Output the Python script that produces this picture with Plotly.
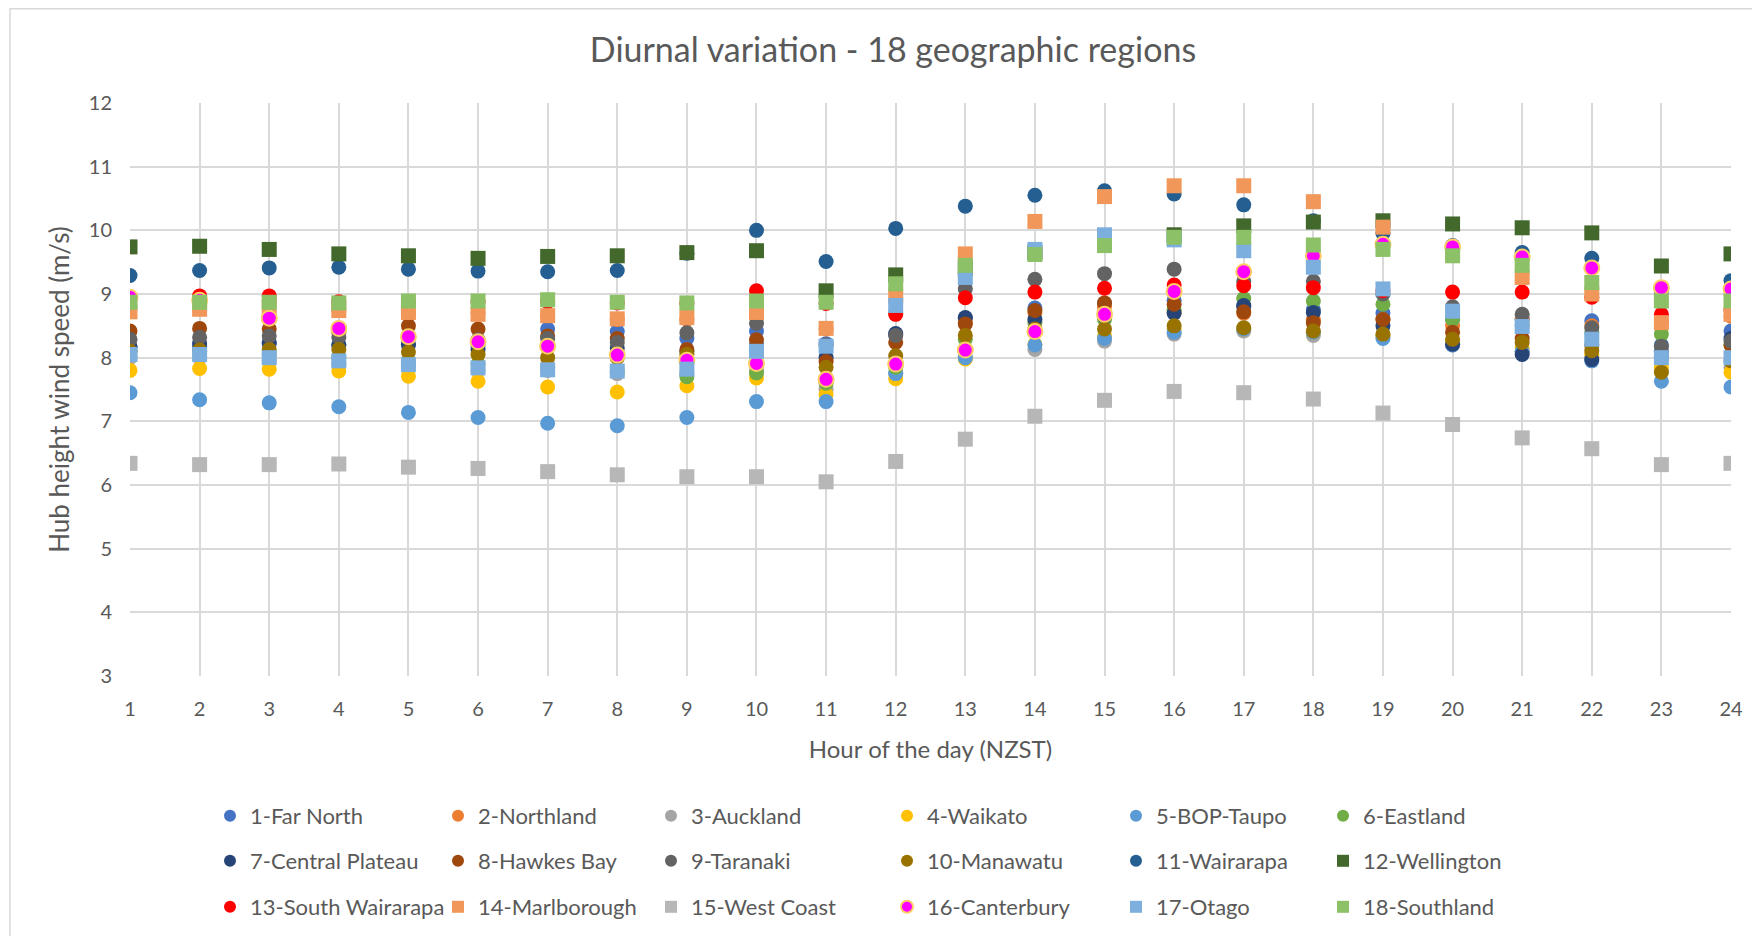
import plotly.graph_objects as go

hours = list(range(1, 25))

names = ["1-Far North", "2-Northland", "3-Auckland", "4-Waikato", "5-BOP-Taupo", "6-Eastland",
         "7-Central Plateau", "8-Hawkes Bay", "9-Taranaki", "10-Manawatu", "11-Wairarapa", "12-Wellington",
         "13-South Wairarapa", "14-Marlborough", "15-West Coast", "16-Canterbury", "17-Otago", "18-Southland"]

far_north = [8.15, 8.18, 8.22, 8.20, 8.20, 8.18, 8.45, 8.41, 8.30, 8.42, 8.22, 8.36, 8.62, 8.78, 8.85, 8.90, 8.80, 8.75, 8.70, 8.60, 8.62, 8.58, 8.20, 8.42]
northland = [8.92, 8.92, 8.90, 8.75, 8.70, 8.70, 8.66, 8.60, 8.60, 8.75, 8.45, 8.70, 8.55, 8.70, 8.80, 8.71, 8.70, 8.60, 8.60, 8.50, 8.60, 8.50, 8.55, 8.65]
auckland = [8.00, 8.00, 7.95, 7.90, 7.85, 7.80, 7.80, 7.75, 7.75, 7.80, 7.50, 7.75, 8.00, 8.13, 8.26, 8.37, 8.42, 8.35, 8.35, 8.20, 8.10, 8.00, 7.80, 7.85]
waikato = [7.80, 7.83, 7.82, 7.79, 7.71, 7.63, 7.54, 7.46, 7.56, 7.68, 7.42, 7.67, 7.98, 8.21, 8.34, 8.45, 8.45, 8.40, 8.35, 8.25, 8.15, 8.05, 7.85, 7.77]
bop_taupo = [7.45, 7.34, 7.29, 7.23, 7.14, 7.06, 6.97, 6.93, 7.06, 7.31, 7.31, 7.75, 8.00, 8.20, 8.30, 8.40, 8.45, 8.40, 8.30, 8.20, 8.10, 7.95, 7.63, 7.54]
eastland = [8.10, 8.10, 8.05, 8.00, 7.95, 7.90, 7.85, 7.80, 7.70, 7.76, 7.60, 7.85, 8.29, 8.55, 8.60, 8.75, 8.93, 8.89, 8.84, 8.60, 8.50, 8.40, 8.37, 8.20]
central_plateau = [8.18, 8.22, 8.24, 8.20, 8.21, 8.13, 8.20, 8.15, 8.10, 8.20, 8.00, 8.38, 8.63, 8.60, 8.65, 8.70, 8.82, 8.71, 8.50, 8.21, 8.05, 7.97, 8.10, 8.30]
hawkes_bay = [8.42, 8.46, 8.45, 8.40, 8.50, 8.45, 8.34, 8.30, 8.13, 8.28, 7.94, 8.24, 8.53, 8.74, 8.86, 8.84, 8.72, 8.55, 8.60, 8.40, 8.30, 8.20, 8.00, 8.20]
taranaki = [8.29, 8.32, 8.34, 8.32, 8.30, 8.28, 8.30, 8.24, 8.39, 8.54, 8.20, 8.35, 9.08, 9.23, 9.32, 9.39, 9.20, 9.20, 9.00, 8.80, 8.68, 8.47, 8.18, 8.26]
manawatu = [8.10, 8.12, 8.13, 8.13, 8.09, 8.05, 8.00, 8.00, 8.05, 8.10, 7.85, 8.03, 8.35, 8.45, 8.45, 8.50, 8.47, 8.42, 8.37, 8.29, 8.24, 8.11, 7.77, 7.95]
wairarapa = [9.29, 9.37, 9.41, 9.42, 9.39, 9.36, 9.35, 9.37, 9.64, 10.00, 9.51, 10.03, 10.38, 10.55, 10.62, 10.57, 10.40, 10.15, 9.95, 9.76, 9.65, 9.56, 9.05, 9.21]
wellington = [9.74, 9.75, 9.70, 9.63, 9.60, 9.56, 9.59, 9.60, 9.65, 9.68, 9.05, 9.30, 9.40, 9.65, 9.80, 9.93, 10.07, 10.13, 10.15, 10.10, 10.04, 9.96, 9.44, 9.63]
south_wairarapa = [8.95, 8.97, 8.97, 8.88, 8.88, 8.88, 8.88, 8.86, 8.85, 9.05, 8.85, 8.68, 8.94, 9.03, 9.09, 9.14, 9.13, 9.10, 9.05, 9.03, 9.03, 8.95, 8.68, 8.75]
marlborough = [8.72, 8.76, 8.78, 8.74, 8.71, 8.68, 8.66, 8.61, 8.63, 8.71, 8.46, 8.97, 9.63, 10.14, 10.53, 10.70, 10.70, 10.45, 10.05, 9.65, 9.26, 9.00, 8.55, 8.68]
west_coast = [6.34, 6.32, 6.32, 6.33, 6.28, 6.26, 6.21, 6.16, 6.13, 6.13, 6.05, 6.37, 6.72, 7.08, 7.33, 7.47, 7.45, 7.35, 7.13, 6.95, 6.74, 6.57, 6.32, 6.34]
canterbury = [8.95, 8.90, 8.62, 8.46, 8.33, 8.25, 8.18, 8.04, 7.96, 7.91, 7.66, 7.90, 8.12, 8.41, 8.68, 9.04, 9.35, 9.60, 9.78, 9.74, 9.58, 9.41, 9.10, 9.08]
otago = [8.05, 8.05, 8.00, 7.95, 7.89, 7.84, 7.81, 7.79, 7.82, 8.10, 8.18, 8.82, 9.26, 9.70, 9.93, 9.85, 9.68, 9.42, 9.08, 8.73, 8.49, 8.29, 8.00, 8.00]
southland = [8.87, 8.87, 8.87, 8.86, 8.89, 8.89, 8.91, 8.87, 8.86, 8.89, 8.87, 9.16, 9.45, 9.62, 9.76, 9.89, 9.89, 9.77, 9.70, 9.60, 9.45, 9.18, 8.89, 8.89]

series = [far_north, northland, auckland, waikato, bop_taupo, eastland,
          central_plateau, hawkes_bay, taranaki, manawatu, wairarapa, wellington,
          south_wairarapa, marlborough, west_coast, canterbury, otago, southland]

colors = ["#4472C4", "#ED7D31", "#A5A5A5", "#FFC000", "#5B9BD5", "#70AD47",
          "#264478", "#9E480E", "#636363", "#997300", "#255E91", "#43682B",
          "#FF0000", "#F1975A", "#B7B7B7", "#FF00FF", "#7CAFDD", "#8CC168"]
symbols = ["circle"] * 11 + ["square", "circle", "square", "square", "circle", "square", "square"]

FONT = "Lato"
TXT = "#595959"
col_widths = [183, 168, 191, 184, 162, 150]
legend_ids = ["legend", "legend2", "legend3"]

# the page body adds an 8px margin, so figure coordinates are page coordinates minus 8
OFF = 8
W, H = 1760, 936
PL, PR, PT, PB = 130 - OFF, 1731 - OFF, 103 - OFF, 676 - OFF

fig = go.Figure()
for i, (nm, ys) in enumerate(zip(names, series)):
    line = dict(width=2, color="#FFCD66") if nm.startswith("16") else dict(width=0)
    fig.add_trace(go.Scatter(
        x=hours, y=ys, mode="markers", name=nm,
        marker=dict(symbol=symbols[i], size=15, color=colors[i], line=line),
        legend=legend_ids[i // 6], legendwidth=col_widths[i % 6],
    ))

row_y = [816 - OFF, 861 - OFF, 907 - OFF]
leg_common = dict(orientation="h", xref="container", yref="container", x=(210 - OFF) / W,
                  xanchor="left", yanchor="middle", itemsizing="constant",
                  font=dict(family=FONT, size=22, color=TXT), bgcolor="rgba(0,0,0,0)",
                  tracegroupgap=0)

pw, ph = PR - PL, PB - PT
fig.update_layout(
    width=W, height=H,
    paper_bgcolor="white", plot_bgcolor="white",
    margin=dict(l=PL, r=W - PR, t=PT, b=H - PB),
    title=dict(text="Diurnal variation - 18 geographic regions", x=(893 - OFF) / W, xref="container",
               xanchor="center", y=1 - (50 - OFF) / H, yref="container", yanchor="middle",
               font=dict(family=FONT, size=34, color=TXT)),
    xaxis=dict(range=[1, 24], tickvals=hours, showgrid=True, gridcolor="#D9D9D9", gridwidth=1.5,
               zeroline=False, showline=False, ticks="", ticklabelstandoff=19,
               tickfont=dict(family=FONT, size=20, color=TXT),
               title=dict(text="Hour of the day (NZST)", standoff=22,
                          font=dict(family=FONT, size=24, color=TXT))),
    yaxis=dict(range=[3, 12], dtick=1, showgrid=True, gridcolor="#D9D9D9", gridwidth=1.5,
               zeroline=False, showline=False, ticks="", ticklabelstandoff=17,
               tickfont=dict(family=FONT, size=20, color=TXT),
               title=dict(text="Hub height wind speed (m/s)", standoff=11,
                          font=dict(family=FONT, size=26, color=TXT))),
    legend=dict(leg_common, y=1 - row_y[0] / H),
    legend2=dict(leg_common, y=1 - row_y[1] / H),
    legend3=dict(leg_common, y=1 - row_y[2] / H),
    shapes=[dict(type="rect", xref="paper", yref="paper",
                 x0=(2 - PL) / pw, x1=(1800 - PL) / pw,
                 y0=(PB - 1000) / ph, y1=(PB - 0.75) / ph,
                 line=dict(color="#D9D9D9", width=1.5), layer="below")],
)

fig.write_html("out.html")
